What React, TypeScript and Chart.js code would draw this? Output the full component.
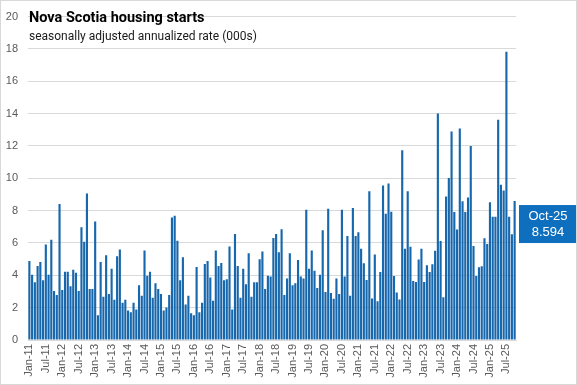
import React, { useEffect, useRef } from "react";
import { Chart, registerables } from "chart.js";

Chart.register(...registerables);

const MONTHS = ["Jan", "Feb", "Mar", "Apr", "May", "Jun", "Jul", "Aug", "Sep", "Oct", "Nov", "Dec"];
const YEARS = [2011, 2012, 2013, 2014, 2015, 2016, 2017, 2018, 2019, 2020, 2021, 2022, 2023, 2024, 2025];

const v2011 = [4.88, 4.04, 3.57, 4.58, 4.82, 3.69, 5.9, 4.04, 6.2, 3.03, 2.79, 8.41];
const v2012 = [3.09, 4.22, 4.22, 3.33, 4.34, 4.16, 3.03, 6.97, 6.08, 9.06, 3.15, 3.15];
const v2013 = [7.33, 1.53, 4.82, 2.67, 5.24, 2.85, 4.4, 2.49, 5.18, 5.6, 2.31, 2.49];
const v2014 = [1.83, 1.71, 2.31, 1.89, 3.39, 2.73, 5.54, 3.98, 4.22, 2.61, 3.51, 3.15];
const v2015 = [2.85, 1.83, 2.01, 2.79, 7.57, 7.69, 6.14, 3.69, 5.12, 2.19, 2.73, 1.65];
const v2016 = [1.53, 4.52, 1.71, 2.31, 4.7, 4.88, 3.86, 2.43, 5.54, 4.58, 4.76, 3.69];
const v2017 = [3.75, 5.78, 1.89, 6.55, 4.58, 2.61, 4.4, 3.45, 5.36, 2.67, 3.57, 3.57];
const v2018 = [5.0, 5.48, 3.15, 3.98, 3.92, 6.31, 6.55, 5.42, 6.85, 2.79, 3.8, 5.36];
const v2019 = [3.39, 3.51, 4.94, 3.92, 3.8, 8.05, 4.4, 5.54, 4.28, 3.21, 4.04, 6.79];
const v2020 = [2.97, 8.11, 2.91, 2.55, 3.8, 2.85, 8.05, 3.92, 6.43, 2.73, 8.17, 6.43];
const v2021 = [6.67, 5.64, 4.74, 3.71, 9.2, 2.57, 5.28, 2.39, 4.2, 9.56, 7.81, 9.68];
const v2022 = [7.93, 3.96, 2.93, 2.51, 11.73, 5.64, 9.2, 5.76, 3.65, 3.59, 4.98, 5.64];
const v2023 = [3.59, 4.62, 4.2, 4.68, 5.52, 14.0, 6.12, 2.64, 8.88, 10.02, 12.9, 7.92];
const v2024 = [6.84, 13.08, 8.58, 7.92, 8.82, 12.0, 5.82, 3.96, 4.5, 4.56, 6.3, 5.94];
const v2025 = [8.52, 7.62, 7.62, 13.62, 9.6, 9.24, 17.82, 7.62, 6.54, 8.594];

const VALUES_BY_YEAR = [v2011, v2012, v2013, v2014, v2015, v2016, v2017, v2018, v2019, v2020, v2021, v2022, v2023, v2024, v2025];

const TITLE = "Nova Scotia housing starts";
const SUBTITLE = "seasonally adjusted annualized rate (000s)";

const BAR_COLOR = "#1767ad";
const BOX_COLOR = "#0f6fbf";

export default function App() {
  const ref = useRef<HTMLCanvasElement | null>(null);

  useEffect(() => {
    const labels: string[] = [];
    const values: number[] = [];
    VALUES_BY_YEAR.forEach((arr, yi) => {
      arr.forEach((v, mi) => {
        labels.push(MONTHS[mi] + "-" + String(YEARS[yi]).slice(2));
        values.push(v);
      });
    });

    const overlay = {
      id: "overlay",
      afterDraw(chart: any) {
        const ctx = chart.ctx as CanvasRenderingContext2D;
        const area = chart.chartArea;
        ctx.save();
        // titles
        ctx.textBaseline = "alphabetic";
        ctx.textAlign = "left";
        ctx.font = "bold 14.5px Roboto";
        ctx.fillStyle = "#000000";
        ctx.fillText(TITLE, area.left + 1, 22);
        ctx.font = "12px Roboto";
        const w = ctx.measureText(SUBTITLE).width;
        ctx.fillStyle = "#ffffff";
        ctx.fillRect(area.left, 31, w + 3, 13);
        ctx.fillStyle = "#1a1a1a";
        ctx.fillText(SUBTITLE, area.left + 1, 39.5);

        // callout for last value
        const last = values[values.length - 1];
        const lastLabel = labels[labels.length - 1];
        const y = chart.scales.y.getPixelForValue(last);
        const bx = area.right + 3;
        const by = y + 4;
        const bw = chart.width - bx;
        const bh = 38;
        ctx.fillStyle = BOX_COLOR;
        ctx.fillRect(bx, by, bw, bh);
        ctx.fillStyle = "#ffffff";
        ctx.font = "13px 'Liberation Sans'";
        ctx.textAlign = "center";
        ctx.textBaseline = "middle";
        ctx.fillText(lastLabel, bx + bw / 2, by + 11);
        ctx.fillText(String(last), bx + bw / 2, by + 27);

        // frame
        ctx.strokeStyle = "#d9d9d9";
        ctx.lineWidth = 1;
        ctx.strokeRect(0.5, 0.5, chart.width - 1, chart.height - 1);
        ctx.restore();
      },
    };

    const chart = new Chart(ref.current as HTMLCanvasElement, {
      type: "bar",
      data: {
        labels,
        datasets: [
          {
            data: values,
            backgroundColor: BAR_COLOR,
            borderWidth: 0,
            barPercentage: 0.78,
            categoryPercentage: 1,
          },
        ],
      },
      options: {
        responsive: false,
        animation: false,
        layout: { padding: { top: 7, right: 61, left: 0, bottom: 0 } },
        plugins: {
          legend: { display: false },
          tooltip: { enabled: false },
          title: { display: false },
        },
        scales: {
          x: {
            grid: { display: false, drawTicks: false },
            border: { display: true, color: "#d9d9d9" },
            ticks: {
              autoSkip: false,
              minRotation: 90,
              maxRotation: 90,
              padding: 4,
              color: "#595959",
              font: { family: "'Liberation Sans'", size: 11 },
              callback: (_v: any, i: number) => (i % 6 === 0 ? labels[i] : ""),
            },
            afterFit: (scale: any) => {
              scale.height = 45;
            },
          },
          y: {
            min: 0,
            max: 20,
            grid: { color: "#d9d9d9", drawTicks: false },
            border: { display: false },
            ticks: {
              stepSize: 2,
              padding: 10,
              color: "#595959",
              font: { family: "'Liberation Sans'", size: 11 },
            },
            afterFit: (scale: any) => {
              scale.width = 28;
            },
          },
        },
      },
      plugins: [overlay],
    });
    return () => chart.destroy();
  }, []);

  return (
    <div style={{ position: "fixed", left: 0, top: 0, width: 577, height: 385, background: "#ffffff" }}>
      <canvas ref={ref} width={577} height={385} style={{ display: "block" }} />
    </div>
  );
}
